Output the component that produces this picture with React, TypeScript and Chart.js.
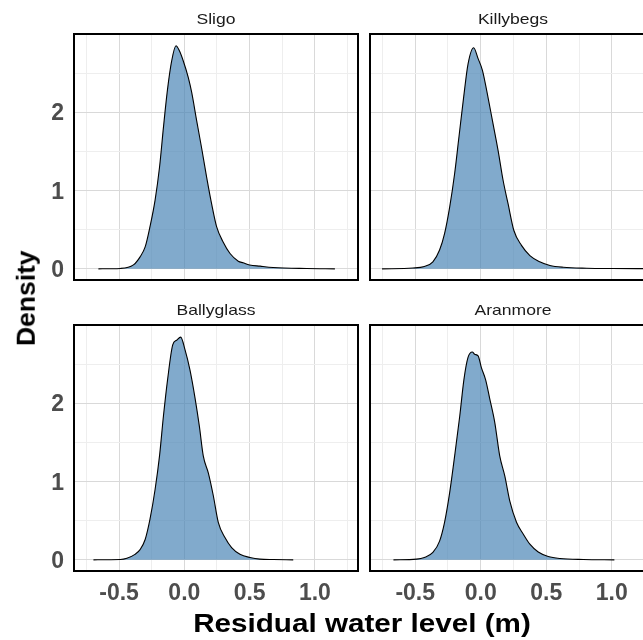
import React, { useEffect, useRef } from "react";
import { Chart, registerables } from "chart.js";

Chart.register(...registerables);

// ---------- data ----------
const STATIONS = ["Sligo", "Killybegs", "Ballyglass", "Aranmore"];

const SLIGO_X = [-0.658, -0.49, -0.39, -0.34, -0.3, -0.263, -0.224, -0.19, -0.16, -0.13, -0.097, -0.064, -0.038, -0.008, 0.03, 0.056, 0.094, 0.133, 0.171, 0.209, 0.247, 0.298, 0.35, 0.413, 0.45, 0.5, 0.58, 0.68, 0.936, 1.153];
const SLIGO_Y = [0, 0.005, 0.05, 0.15, 0.28, 0.54, 0.88, 1.3, 1.81, 2.28, 2.66, 2.855, 2.79, 2.66, 2.45, 2.26, 1.9, 1.54, 1.17, 0.83, 0.54, 0.34, 0.196, 0.098, 0.077, 0.05, 0.034, 0.017, 0.004, 0];

const KILLYBEGS_X = [-0.753, -0.518, -0.43, -0.365, -0.314, -0.276, -0.237, -0.199, -0.166, -0.13, -0.097, -0.054, -0.02, 0.013, 0.048, 0.089, 0.133, 0.171, 0.209, 0.253, 0.311, 0.375, 0.45, 0.528, 0.63, 0.809, 1.0, 1.3];
const KILLYBEGS_Y = [0, 0.01, 0.03, 0.09, 0.24, 0.45, 0.79, 1.22, 1.69, 2.2, 2.62, 2.83, 2.69, 2.54, 2.26, 1.9, 1.51, 1.13, 0.83, 0.49, 0.3, 0.17, 0.09, 0.043, 0.02, 0.008, 0.004, 0.002];

const BALLYGLASS_X = [-0.696, -0.49, -0.44, -0.378, -0.339, -0.3, -0.263, -0.224, -0.19, -0.16, -0.128, -0.089, -0.059, -0.028, 0.005, 0.043, 0.082, 0.115, 0.145, 0.184, 0.222, 0.26, 0.311, 0.362, 0.426, 0.503, 0.579, 0.68, 0.834];
const BALLYGLASS_Y = [0, 0.004, 0.02, 0.07, 0.13, 0.26, 0.52, 0.9, 1.33, 1.84, 2.31, 2.75, 2.81, 2.85, 2.69, 2.43, 2.07, 1.71, 1.33, 1.11, 0.82, 0.48, 0.285, 0.157, 0.072, 0.03, 0.009, 0.004, 0];

const ARANMORE_X = [-0.666, -0.49, -0.43, -0.365, -0.314, -0.276, -0.237, -0.199, -0.16, -0.128, -0.097, -0.064, -0.046, -0.02, 0.005, 0.038, 0.069, 0.107, 0.145, 0.184, 0.222, 0.273, 0.324, 0.375, 0.439, 0.515, 0.605, 0.783, 1.02];
const ARANMORE_Y = [0, 0.009, 0.03, 0.094, 0.24, 0.48, 0.86, 1.33, 1.84, 2.31, 2.59, 2.66, 2.63, 2.61, 2.46, 2.3, 2.06, 1.76, 1.33, 1.07, 0.75, 0.48, 0.33, 0.2, 0.1, 0.043, 0.017, 0.004, 0];

const X_MAJOR = [-0.5, 0, 0.5, 1.0];
const X_MINOR = [-0.75, -0.25, 0.25, 0.75, 1.25];
const Y_MAJOR = [0, 1, 2];
const Y_MINOR = [0.5, 1.5, 2.5];

const X_MIN = -0.845;
const X_MAX = 1.33;
const Y_MIN = -0.143;
const Y_MAX = 3.005;

const X_TITLE = "Residual water level (m)";
const Y_TITLE = "Density";

// ---------- styles ----------
const FONT = "'Liberation Sans', Arial, Helvetica, sans-serif";
const MAJOR_GRID = "#d9d9d9";
const MINOR_GRID = "#eeeeee";
const TICK_COLOR = "#4d4d4d";
const FILL = "rgba(70,130,180,0.68)";

const panelBorder = {
  id: "panelBorder",
  afterDraw(chart: any) {
    const { ctx, chartArea } = chart;
    ctx.save();
    ctx.strokeStyle = "#000000";
    ctx.lineWidth = 2;
    ctx.strokeRect(chartArea.left, chartArea.top, chartArea.right - chartArea.left, chartArea.bottom - chartArea.top);
    ctx.restore();
  },
};

type PanelProps = {
  xs: number[];
  ys: number[];
  left: number;
  top: number;
  width: number;
  height: number;
  pad: { top: number; right: number; bottom: number; left: number };
  showX: boolean;
  showY: boolean;
};

function Panel({ xs, ys, left, top, width, height, pad, showX, showY }: PanelProps) {
  const ref = useRef<HTMLCanvasElement>(null);
  useEffect(() => {
    const chart = new Chart(ref.current as HTMLCanvasElement, {
      type: "line",
      data: {
        datasets: [
          {
            data: xs.map((x, i) => ({ x, y: ys[i] })),
            borderColor: "#000000",
            borderWidth: 1.1,
            backgroundColor: FILL,
            fill: "origin",
            pointRadius: 0,
            cubicInterpolationMode: "monotone",
          } as any,
        ],
      },
      options: {
        responsive: false,
        animation: false,
        devicePixelRatio: 1,
        events: [],
        layout: { padding: pad },
        plugins: { legend: { display: false }, tooltip: { enabled: false }, title: { display: false } },
        scales: {
          x: {
            type: "linear",
            min: X_MIN,
            max: X_MAX,
            afterBuildTicks: (s: any) => {
              s.ticks = [...X_MINOR, ...X_MAJOR].sort((a, b) => a - b).map((v) => ({ value: v }));
            },
            afterFit: (s: any) => {
              s.height = showX ? 40 : 0;
              s.paddingLeft = 0;
              s.paddingRight = 0;
              s.paddingTop = 0;
              s.paddingBottom = 0;
            },
            grid: {
              color: (c: any) => (c.tick && X_MAJOR.includes(c.tick.value) ? MAJOR_GRID : MINOR_GRID),
              lineWidth: 1,
              drawTicks: false,
            },
            border: { display: false },
            ticks: {
              display: showX,
              autoSkip: false,
              maxRotation: 0,
              padding: 9,
              color: TICK_COLOR,
              font: { family: FONT, size: 23, weight: "bold" },
              callback: (v: any) => (X_MAJOR.includes(Number(v)) ? Number(v).toFixed(1) : ""),
            },
          },
          y: {
            type: "linear",
            min: Y_MIN,
            max: Y_MAX,
            afterBuildTicks: (s: any) => {
              s.ticks = [...Y_MINOR, ...Y_MAJOR].sort((a, b) => a - b).map((v) => ({ value: v }));
            },
            afterFit: (s: any) => {
              s.width = showY ? 74 : 0;
              s.paddingLeft = 0;
              s.paddingRight = 0;
              s.paddingTop = 0;
              s.paddingBottom = 0;
            },
            grid: {
              color: (c: any) => (c.tick && Y_MAJOR.includes(c.tick.value) ? MAJOR_GRID : MINOR_GRID),
              lineWidth: 1,
              drawTicks: false,
            },
            border: { display: false },
            ticks: {
              display: showY,
              autoSkip: false,
              padding: 10,
              labelOffset: 1.5,
              color: TICK_COLOR,
              font: { family: FONT, size: 23, weight: "bold" },
              callback: (v: any) => (Y_MAJOR.includes(Number(v)) ? String(v) : ""),
            },
          },
        },
      } as any,
      plugins: [panelBorder],
    });
    return () => chart.destroy();
  }, []);
  return (
    <canvas
      ref={ref}
      width={width}
      height={height}
      style={{ position: "absolute", left, top, width, height }}
    />
  );
}

function Strip({ text, cx, top }: { text: string; cx: number; top: number }) {
  return (
    <div
      style={{
        position: "absolute",
        left: cx - 100,
        top,
        width: 200,
        textAlign: "center",
        fontFamily: FONT,
        fontSize: 15,
        lineHeight: "15px",
        color: "#1a1a1a",
        transform: "scaleX(1.17)",
        transformOrigin: "center",
        whiteSpace: "nowrap",
      }}
    >
      {text}
    </div>
  );
}

export default function App() {
  return (
    <div
      style={{
        position: "absolute",
        left: 0,
        top: 0,
        width: 643,
        height: 640,
        overflow: "hidden",
        background: "#ffffff",
      }}
    >
      <Panel xs={SLIGO_X} ys={SLIGO_Y} left={0} top={0} width={364} height={300}
        pad={{ top: 34, right: 6, bottom: 20, left: 0 }} showX={false} showY={true} />
      <Panel xs={KILLYBEGS_X} ys={KILLYBEGS_Y} left={364} top={0} width={300} height={300}
        pad={{ top: 34, right: 9, bottom: 20, left: 6 }} showX={false} showY={false} />
      <Panel xs={BALLYGLASS_X} ys={BALLYGLASS_Y} left={0} top={300} width={364} height={340}
        pad={{ top: 25, right: 6, bottom: 29, left: 0 }} showX={true} showY={true} />
      <Panel xs={ARANMORE_X} ys={ARANMORE_Y} left={364} top={300} width={300} height={340}
        pad={{ top: 25, right: 9, bottom: 29, left: 6 }} showX={true} showY={false} />

      <Strip text={STATIONS[0]} cx={216} top={11.3} />
      <Strip text={STATIONS[1]} cx={512.5} top={11.3} />
      <Strip text={STATIONS[2]} cx={216} top={302} />
      <Strip text={STATIONS[3]} cx={512.5} top={302} />

      <div
        style={{
          position: "absolute",
          left: 61.5,
          top: 610,
          width: 600,
          textAlign: "center",
          fontFamily: FONT,
          fontWeight: "bold",
          fontSize: 26,
          lineHeight: "26px",
          color: "#000000",
          transform: "scaleX(1.14)",
          transformOrigin: "center",
          whiteSpace: "nowrap",
        }}
      >
        {X_TITLE}
      </div>
      <div
        style={{
          position: "absolute",
          left: 26 - 100,
          top: 298 - 13.25,
          width: 200,
          height: 26.5,
          textAlign: "center",
          fontFamily: FONT,
          fontWeight: "bold",
          fontSize: 26.5,
          lineHeight: "26.5px",
          color: "#000000",
          transform: "rotate(-90deg)",
          transformOrigin: "center",
          whiteSpace: "nowrap",
        }}
      >
        {Y_TITLE}
      </div>
    </div>
  );
}
